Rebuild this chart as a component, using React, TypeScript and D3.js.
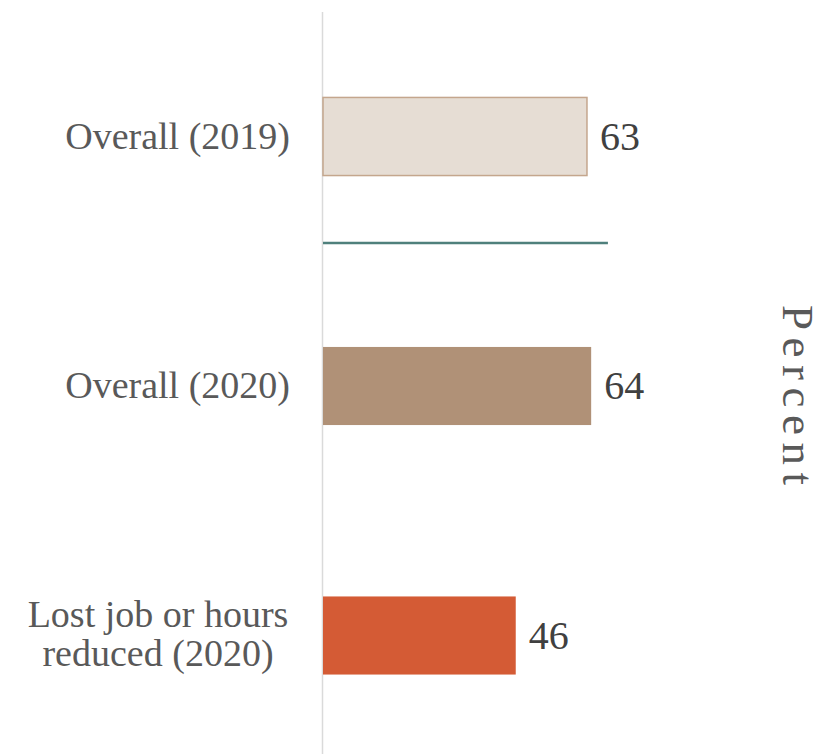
import React from "react";
import * as d3 from "d3";

const categories: string[][] = [
  ["Overall (2019)"],
  ["Overall (2020)"],
  ["Lost job or hours", "reduced (2020)"],
];
const values: number[] = [63, 64, 46];
const fills: string[] = ["#e6ddd4", "#b09177", "#d45b35"];
const strokes: string[] = ["#c4a68d", "none", "none"];
const referenceValue = 68;
const axisTitle = "Percent";

const W = 825;
const H = 754;

export default function App() {
  const keys = categories.map((c) => c.join(" "));
  const x = d3.scaleLinear().domain([0, 100]).range([323, 323 + 419]);
  const y = d3
    .scaleBand<string>()
    .domain(keys)
    .range([11.75, 760.25])
    .paddingInner(0.687)
    .paddingOuter(0.3435);
  const bw = y.bandwidth();
  const step = y.step();
  const sepY = (y(keys[0]) as number) + bw + step * 0.27;

  return (
    <svg
      width={W}
      height={H}
      style={{ position: "absolute", left: 0, top: 0, display: "block", background: "#fff" }}
      fontFamily="'Liberation Serif', serif"
    >
      <line x1={x(0) - 0.5} x2={x(0) - 0.5} y1={12} y2={H} stroke="#dadada" strokeWidth={1.5} />
      {keys.map((k, i) => {
        const y0 = y(k) as number;
        const cy = y0 + bw / 2;
        const lines = categories[i];
        const multi = lines.length > 1;
        return (
          <g key={k}>
            <rect
              x={x(0)}
              y={y0}
              width={x(values[i]) - x(0)}
              height={bw}
              fill={fills[i]}
              stroke={strokes[i]}
              strokeWidth={1.5}
            />
            <text
              x={x(values[i]) + 13}
              y={cy + 13}
              fontSize={40}
              fill="#404040"
            >
              {values[i]}
            </text>
            {lines.map((ln, j) => (
              <text
                key={j}
                x={multi ? 158 : 290}
                y={multi ? cy - 9 + j * 39 : cy + 12}
                fontSize={38}
                fill="#595959"
                textAnchor={multi ? "middle" : "end"}
              >
                {ln}
              </text>
            ))}
          </g>
        );
      })}
      <line
        x1={x(0)}
        x2={x(referenceValue)}
        y1={sepY}
        y2={sepY}
        stroke="#4f807c"
        strokeWidth={2.5}
      />
      <text
        transform={`translate(783, 395) rotate(90)`}
        textAnchor="middle"
        fontSize={45}
        fill="#595959"
        textLength={180}
        lengthAdjust="spacing"
      >
        {axisTitle}
      </text>
    </svg>
  );
}
